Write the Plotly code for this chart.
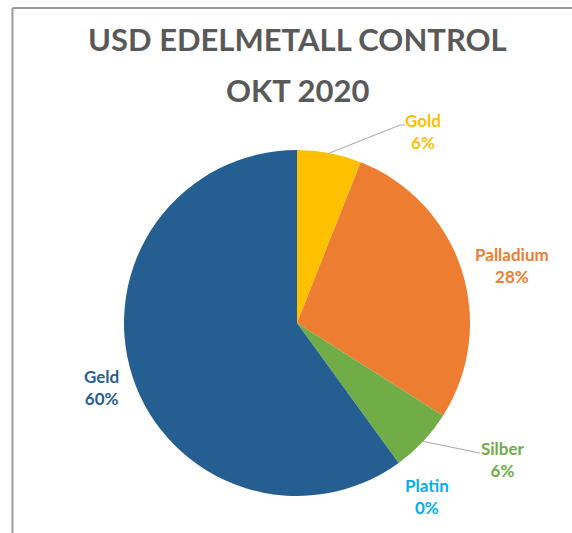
import math
import plotly.graph_objects as go

# Data
metals = ["Gold", "Palladium", "Silber", "Platin", "Geld"]
shares = [6, 28, 6, 0, 60]
colors = ["#FFC000", "#ED7D31", "#70AD47", "#00B0F0", "#255E91"]
title_lines = ["USD EDELMETALL CONTROL", "OKT 2020"]

W, H = 572, 533
CX, CY, R = 297, 323, 173  # pie centre and radius in px


def px(x):
    return x / W


def py(y):
    return 1 - y / H


fig = go.Figure(
    go.Pie(
        labels=metals,
        values=shares,
        marker=dict(colors=colors, line=dict(width=0)),
        sort=False,
        direction="clockwise",
        rotation=0,
        textinfo="none",
        hoverinfo="label+percent",
        showlegend=False,
        domain=dict(x=[px(CX - R), px(CX + R)], y=[py(CY + R), py(CY - R)]),
    )
)

# Label anchor positions (px) per metal
label_pos = {
    "Gold": (423, 131),
    "Palladium": (512, 265),
    "Silber": (503, 459),
    "Platin": (427, 496),
    "Geld": (101, 387),
}
# Leader line end points for labels placed away from their slice
leader_end = {
    "Gold": [(400, 125), (405, 125)],
    "Silber": [(480, 453)],
}

annotations = []
shapes = []
total = sum(shares)
cum = 0
for name, val, col in zip(metals, shares, colors):
    mid = (cum + val / 2) / total * 2 * math.pi
    cum += val
    pct = round(val / total * 100)
    lx, ly = label_pos[name]
    annotations.append(dict(
        x=px(lx), y=py(ly), xref="paper", yref="paper",
        text=f"<b>{name}</b><br><b>{pct}%</b>",
        showarrow=False, xanchor="center", yanchor="middle",
        font=dict(family="Lato", size=17, color=col),
        align="center",
    ))
    if name in leader_end:
        sx = CX + R * math.sin(mid)
        sy = CY - R * math.cos(mid)
        pts = [(sx, sy)] + leader_end[name]
        path = "M " + " L ".join(f"{px(a)},{py(b)}" for a, b in pts)
        shapes.append(dict(type="path", xref="paper", yref="paper", path=path,
                           line=dict(color="#A6A6A6", width=1)))

for text, yc in zip(title_lines, [39, 90]):
    annotations.append(dict(
        x=px(CX), y=py(yc), xref="paper", yref="paper",
        text=f"<b>{text}</b>", showarrow=False,
        xanchor="center", yanchor="middle",
        font=dict(family="Lato", size=31, color="#595959"),
    ))

# Chart frame (top and left edges visible)
shapes.append(dict(type="line", xref="paper", yref="paper",
                   x0=px(12.5), y0=py(8), x1=1.01, y1=py(8),
                   line=dict(color="#9A9A9A", width=2)))
shapes.append(dict(type="line", xref="paper", yref="paper",
                   x0=px(12.5), y0=py(8), x1=px(12.5), y1=-0.01,
                   line=dict(color="#9A9A9A", width=2)))

fig.update_layout(
    width=W, height=H,
    margin=dict(l=0, r=0, t=0, b=0),
    paper_bgcolor="white", plot_bgcolor="white",
    annotations=annotations, shapes=shapes,
)

fig.write_html("out.html")
